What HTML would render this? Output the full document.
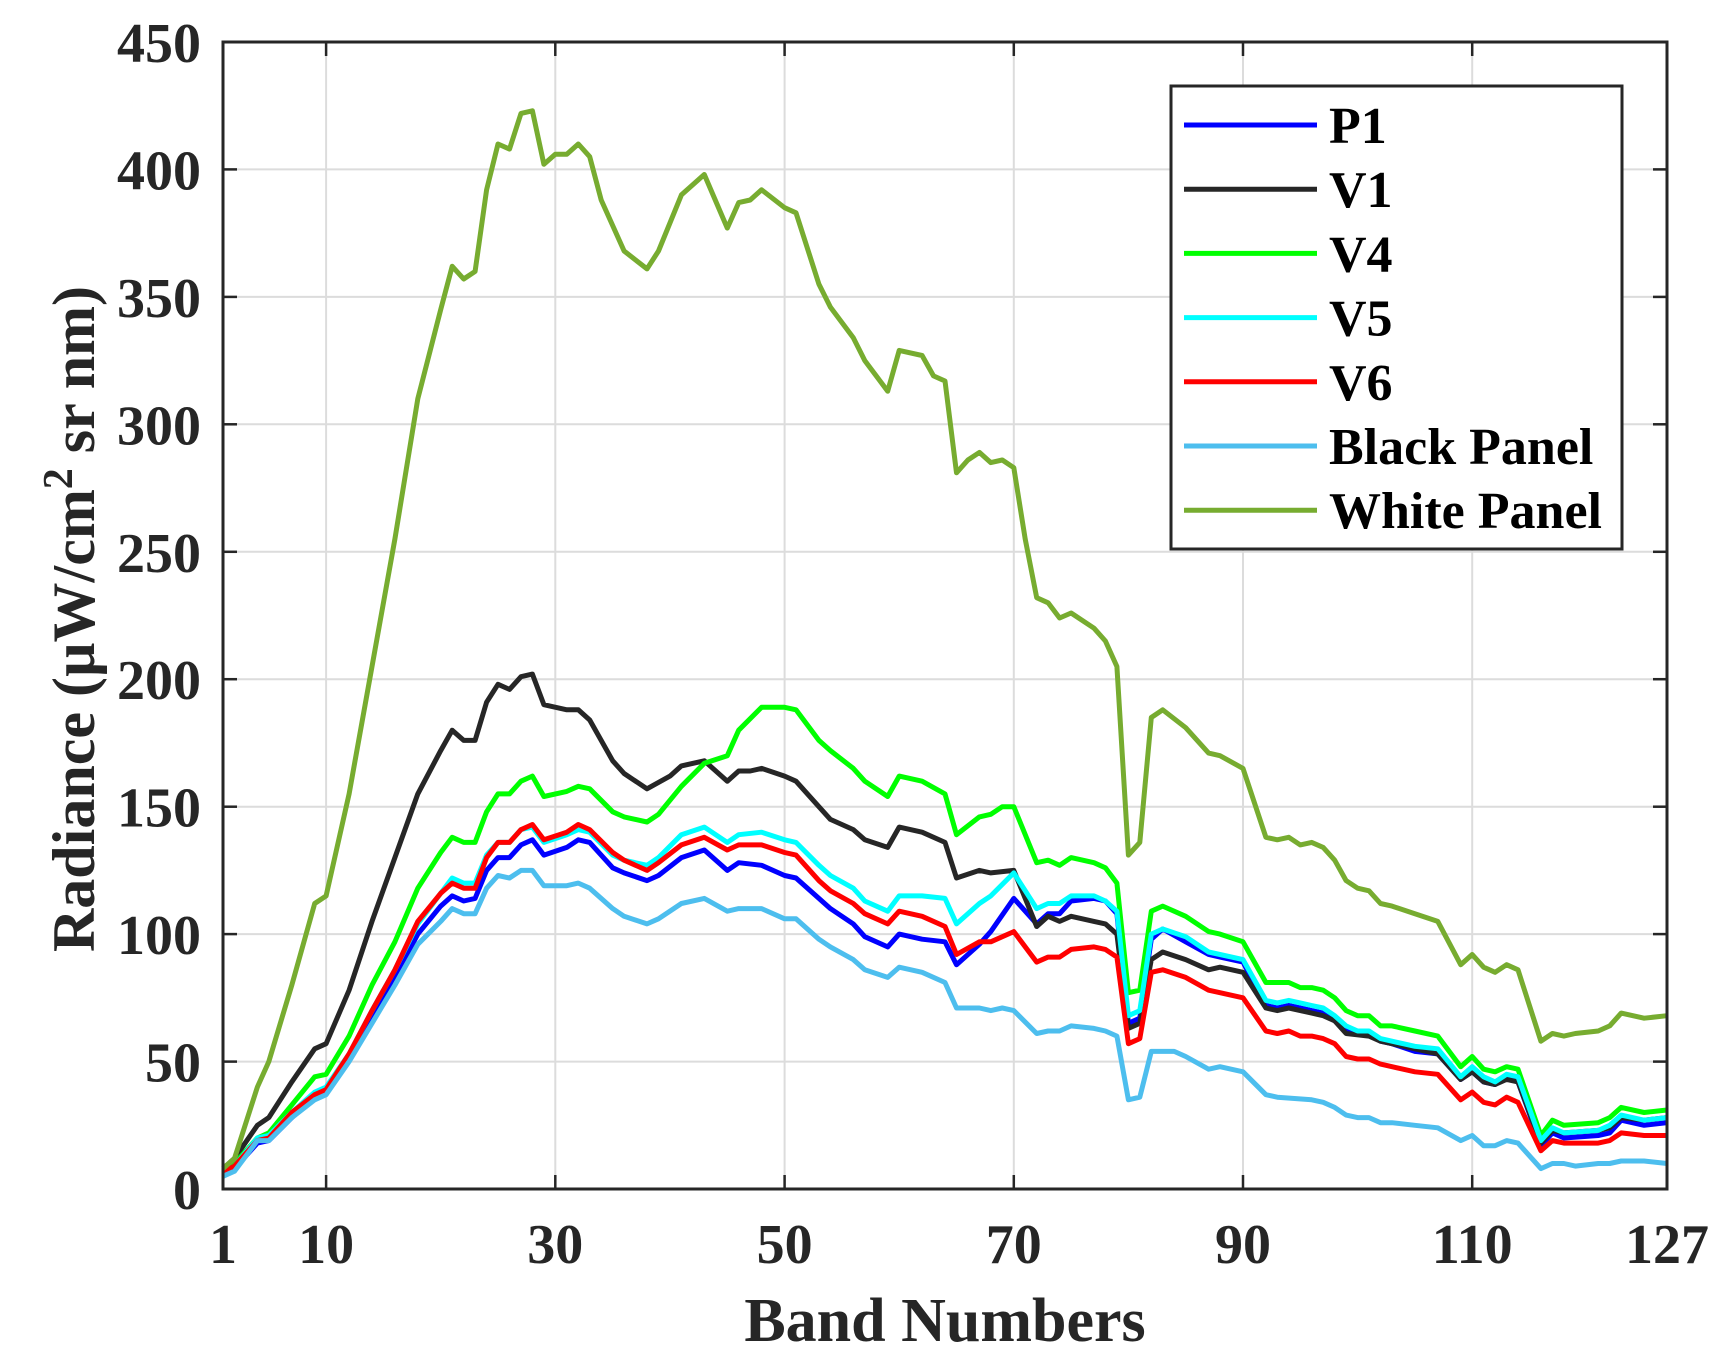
<!DOCTYPE html>
<html><head><meta charset="utf-8"><style>
html,body{margin:0;padding:0;background:#fff;}
svg text{font-family:"Liberation Serif",serif;font-weight:bold;fill:#262626;}
</style></head><body>
<svg id="s" width="1731" height="1363" viewBox="0 0 1731 1363" xmlns="http://www.w3.org/2000/svg"></svg>
<script>
const L=223,R=1667,T=42,B=1189;
const X=b=>L+(b-1)*(R-L)/126, Y=v=>B-v*(B-T)/450;
const P=s=>s.split(',').map(p=>p.split(':').map(Number));
const S=[
['#0000ff','P1','1:5,2:8,4:18,5:19,7:28,9:36,10:38,12:52,14:68,16:83,18:100,20:111,21:115,22:113,23:114,24:125,25:130,26:130,27:135,28:137,29:131,31:134,32:137,33:136,35:126,36:124,38:121,39:123,41:130,43:133,45:125,46:128,48:127,50:123,51:122,53:114,54:110,56:104,57:99,59:95,60:100,62:98,64:97,65:88,67:96,68:101,70:114,72:104,73:108,74:108,75:113,77:114,78:113,79:108,80:65,81:67,82:98,83:102,85:97,87:92,88:91,90:89,92:72,93:71,94:72,95:71,96:70,97:69,98:66,99:62,100:61,101:61,102:58,103:57,105:54,107:53,109:43,110:46,111:42,112:41,113:44,114:42,116:17,117:22,118:20,121:21,122:22,123:27,125:25,127:26'],
['#262626','V1','1:8,2:12,4:25,5:28,7:42,9:55,10:57,12:78,14:105,16:130,18:155,20:172,21:180,22:176,23:176,24:191,25:198,26:196,27:201,28:202,29:190,31:188,32:188,33:184,35:168,36:163,38:157,40:162,41:166,43:168,45:160,46:164,47:164,48:165,50:162,51:160,53:150,54:145,56:141,57:137,59:134,60:142,62:140,64:136,65:122,67:125,68:124,70:125,72:103,73:107,74:105,75:107,77:105,78:104,79:100,80:63,81:65,82:90,83:93,85:90,87:86,88:87,90:85,92:71,93:70,94:71,96:69,97:68,98:66,99:61,101:60,102:58,103:57,105:55,107:53,109:43,110:46,111:42,112:41,113:43,114:42,116:18,117:23,118:22,121:23,122:24,123:28,125:27,127:28'],
['#00ff00','V4','1:8,2:10,4:20,5:22,7:33,9:44,10:45,12:60,14:80,16:97,18:118,20:132,21:138,22:136,23:136,24:148,25:155,26:155,27:160,28:162,29:154,31:156,32:158,33:157,35:148,36:146,38:144,39:147,41:158,43:167,45:170,46:180,48:189,50:189,51:188,53:176,54:172,56:165,57:160,59:154,60:162,62:160,64:155,65:139,67:146,68:147,69:150,70:150,72:128,73:129,74:127,75:130,77:128,78:126,79:120,80:77,81:78,82:109,83:111,85:107,87:101,88:100,90:97,92:81,93:81,94:81,95:79,96:79,97:78,98:75,99:70,100:68,101:68,102:64,103:64,105:62,107:60,109:48,110:52,111:47,112:46,113:48,114:47,116:21,117:27,118:25,121:26,122:28,123:32,125:30,127:31'],
['#00ffff','V5','1:7,2:9,4:20,5:21,7:30,9:38,10:40,12:53,14:70,16:86,18:104,20:116,21:122,22:120,23:120,24:131,25:136,26:136,27:141,28:142,29:136,31:139,32:141,33:140,35:131,36:129,38:127,39:130,41:139,43:142,45:136,46:139,48:140,50:137,51:136,53:127,54:123,56:118,57:113,59:109,60:115,62:115,64:114,65:104,67:112,68:115,70:124,72:110,73:112,74:112,75:115,77:115,78:113,79:109,80:68,81:70,82:100,83:102,85:99,87:93,88:92,90:90,92:74,93:73,94:74,95:73,96:72,97:71,98:68,99:64,100:62,101:62,102:59,103:58,105:56,107:55,109:44,110:48,111:44,112:42,113:45,114:44,116:19,117:24,118:22,121:23,122:25,123:29,125:27,127:28'],
['#ff0000','V6','1:7,2:9,4:19,5:20,7:30,9:37,10:39,12:53,14:70,16:86,18:105,20:116,21:120,22:118,23:118,24:130,25:136,26:136,27:141,28:143,29:137,31:140,32:143,33:141,35:132,36:129,38:125,39:128,41:135,43:138,45:133,46:135,48:135,50:132,51:131,53:121,54:117,56:112,57:108,59:104,60:109,62:107,64:103,65:92,67:97,68:97,70:101,72:89,73:91,74:91,75:94,77:95,78:94,79:91,80:57,81:59,82:85,83:86,85:83,87:78,88:77,90:75,92:62,93:61,94:62,95:60,96:60,97:59,98:57,99:52,100:51,101:51,102:49,103:48,105:46,107:45,109:35,110:38,111:34,112:33,113:36,114:34,116:15,117:19,118:18,121:18,122:19,123:22,125:21,127:21'],
['#4dbeee','Black Panel','1:5,2:7,4:19,5:19,7:28,9:35,10:37,12:50,14:65,16:80,18:96,20:105,21:110,22:108,23:108,24:118,25:123,26:122,27:125,28:125,29:119,31:119,32:120,33:118,35:110,36:107,38:104,39:106,41:112,43:114,45:109,46:110,47:110,48:110,50:106,51:106,53:98,54:95,56:90,57:86,59:83,60:87,62:85,64:81,65:71,67:71,68:70,69:71,70:70,72:61,73:62,74:62,75:64,77:63,78:62,79:60,80:35,81:36,82:54,83:54,84:54,85:52,87:47,88:48,90:46,92:37,93:36,96:35,97:34,98:32,99:29,100:28,101:28,102:26,103:26,105:25,107:24,109:19,110:21,111:17,112:17,113:19,114:18,116:8,117:10,118:10,119:9,121:10,122:10,123:11,125:11,127:10'],
['#77ac30','White Panel','1:8,2:12,4:40,5:50,7:80,9:112,10:115,12:155,14:205,16:255,18:310,20:345,21:362,22:357,23:360,24:392,25:410,26:408,27:422,28:423,29:402,30:406,31:406,32:410,33:405,34:388,36:368,38:361,39:368,41:390,43:398,45:377,46:387,47:388,48:392,50:385,51:383,53:355,54:346,56:334,57:325,59:313,60:329,62:327,63:319,64:317,65:281,66:286,67:289,68:285,69:286,70:283,71:255,72:232,73:230,74:224,75:226,77:220,78:215,79:205,80:131,81:136,82:185,83:188,85:181,87:171,88:170,90:165,92:138,93:137,94:138,95:135,96:136,97:134,98:129,99:121,100:118,101:117,102:112,103:111,105:108,107:105,109:88,110:92,111:87,112:85,113:88,114:86,116:58,117:61,118:60,119:61,121:62,122:64,123:69,125:67,127:68']
];
let h='';
const xt=[1,10,30,50,70,90,110,127];
for(const b of xt){const x=X(b).toFixed(1);
 if(b!=1&&b!=127)h+=`<line x1="${x}" y1="${T}" x2="${x}" y2="${B}" stroke="#dcdcdc" stroke-width="2"/>`;}
for(let v=50;v<450;v+=50){const y=Y(v).toFixed(1);h+=`<line x1="${L}" y1="${y}" x2="${R}" y2="${y}" stroke="#dcdcdc" stroke-width="2"/>`;}
for(const s of S){const pts=P(s[2]).map(p=>X(p[0]).toFixed(1)+','+Y(p[1]).toFixed(1)).join(' ');
 h+=`<polyline points="${pts}" fill="none" stroke="${s[0]}" stroke-width="5" stroke-linejoin="round"/>`;}
for(const b of xt){const x=X(b).toFixed(1);
 h+=`<line x1="${x}" y1="${B}" x2="${x}" y2="${B-14}" stroke="#262626" stroke-width="2.5"/><line x1="${x}" y1="${T}" x2="${x}" y2="${T+14}" stroke="#262626" stroke-width="2.5"/>`;
 h+=`<text x="${x}" y="1263" font-size="56" text-anchor="middle">${b}</text>`;}
for(let v=0;v<=450;v+=50){const y=Y(v).toFixed(1);
 h+=`<line x1="${L}" y1="${y}" x2="${L+14}" y2="${y}" stroke="#262626" stroke-width="2.5"/><line x1="${R}" y1="${y}" x2="${R-14}" y2="${y}" stroke="#262626" stroke-width="2.5"/>`;
 h+=`<text x="201" y="${(Y(v)+20).toFixed(1)}" font-size="56" text-anchor="end">${v}</text>`;}
h+=`<rect x="${L}" y="${T}" width="${R-L}" height="${B-T}" fill="none" stroke="#262626" stroke-width="3"/>`;
h+=`<text x="945" y="1341" font-size="62" text-anchor="middle">Band Numbers</text>`;
h+=`<text transform="translate(94,619) rotate(-90)" font-size="60" text-anchor="middle">Radiance (µW/cm<tspan dy="-22" font-size="42">2</tspan><tspan dy="22"> sr nm)</tspan></text>`;
h+=`<rect x="1171" y="86" width="451" height="463" fill="#fff" stroke="#262626" stroke-width="3"/>`;
S.forEach((s,i)=>{const y=125+i*64.2;
 h+=`<line x1="1184" y1="${y}" x2="1317" y2="${y}" stroke="${s[0]}" stroke-width="5"/>`;
 h+=`<text x="1329" y="${y+18}" font-size="52" fill="#000" style="fill:#000">${s[1]}</text>`;});
document.getElementById('s').innerHTML=h;
</script>
</body></html>
